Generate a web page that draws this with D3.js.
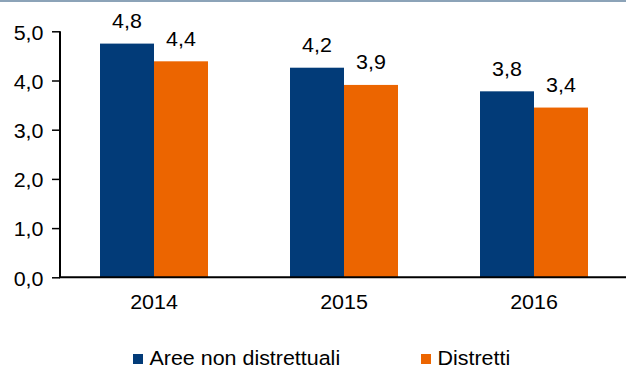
<!DOCTYPE html>
<html>
<head>
<meta charset="utf-8">
<script src="https://cdn.jsdelivr.net/npm/d3@7"></script>
<style>
  html, body { margin: 0; padding: 0; background: #fff; }
  svg { display: block; }
  text { font-family: "Liberation Sans", Arial, sans-serif; fill: #000; }
</style>
</head>
<body>
<svg id="chart" width="626" height="365"></svg>
<script>
const categories = ["2014", "2015", "2016"];
const seriesNames = ["Aree non distrettuali", "Distretti"];
const seriesColors = ["#023b78", "#ec6500"];
const areeNonDistrettuali = [4.75, 4.26, 3.78];
const distretti = [4.39, 3.91, 3.45];
const areeLabels = ["4,8", "4,2", "3,8"];
const distrettiLabels = ["4,4", "3,9", "3,4"];
const yTicks = [0, 1, 2, 3, 4, 5];
const yTickLabels = ["0,0", "1,0", "2,0", "3,0", "4,0", "5,0"];

const FS = 19.5, SX = 1.1;
const svg = d3.select("#chart");
const W = 626;

// top border line
svg.append("rect").attr("x", 0).attr("y", 0).attr("width", W).attr("height", 2).attr("fill", "#8ca3b8");

const x0 = d3.scaleBand().domain(categories).range([59, 629]);
const x1 = d3.scaleBand().domain(seriesNames).range([0, 108]);
const y = d3.scaleLinear().domain([0, 5]).range([277.3, 31.3]);

const data = categories.map((c, i) => ({
  cat: c,
  vals: [
    { s: seriesNames[0], v: areeNonDistrettuali[i], lab: areeLabels[i], col: seriesColors[0] },
    { s: seriesNames[1], v: distretti[i], lab: distrettiLabels[i], col: seriesColors[1] }
  ]
}));

const groups = svg.selectAll("g.cat").data(data).enter().append("g")
  .attr("class", "cat")
  .attr("transform", d => `translate(${x0(d.cat) + x0.bandwidth() / 2 - 54},0)`);

groups.selectAll("rect").data(d => d.vals).enter().append("rect")
  .attr("x", d => x1(d.s))
  .attr("width", x1.bandwidth())
  .attr("y", d => y(d.v))
  .attr("height", d => y(0) - y(d.v))
  .attr("fill", d => d.col);

groups.selectAll("text.val").data(d => d.vals).enter().append("text")
  .attr("class", "val")
  .attr("transform", d => `translate(${x1(d.s) + x1.bandwidth() / 2},${y(d.v) - 15.8}) scale(${SX},1)`)
  .attr("text-anchor", "middle")
  .attr("font-size", FS)
  .text(d => d.lab);

// y axis
const yAxis = d3.axisLeft(y).tickValues(yTicks).tickSize(8).tickPadding(9)
  .tickFormat((d, i) => yTickLabels[i]);
const gy = svg.append("g").attr("transform", "translate(60,0)").call(yAxis);
gy.select(".domain").attr("d", `M0,${y(5)}V${y(0)}`).attr("stroke", "#000").attr("stroke-width", 2);
gy.selectAll(".tick line").attr("stroke", "#000").attr("stroke-width", 1.5);
gy.selectAll(".tick text")
  .attr("font-size", FS).attr("font-family", "Liberation Sans, Arial, sans-serif").attr("fill", "#000")
  .attr("x", -16.5 / SX).attr("dy", "0.4em")
  .attr("transform", `scale(${SX},1)`);

// x axis
const xAxis = d3.axisBottom(x0).tickSize(0).tickPadding(18);
const gx = svg.append("g").attr("transform", `translate(0,${y(0)})`).call(xAxis);
gx.select(".domain").attr("d", `M59,0H626`).attr("stroke", "#000").attr("stroke-width", 2);
gx.selectAll(".tick text")
  .attr("font-size", FS).attr("font-family", "Liberation Sans, Arial, sans-serif").attr("fill", "#000")
  .attr("transform", `scale(${SX},1)`);

// legend
const legendX = [133, 421];
const leg = svg.selectAll("g.leg").data(seriesNames).enter().append("g")
  .attr("class", "leg")
  .attr("transform", (d, i) => `translate(${legendX[i]},0)`);
leg.append("rect").attr("x", 0).attr("y", 354).attr("width", 10).attr("height", 10)
  .attr("fill", (d, i) => seriesColors[i]);
leg.append("text").attr("transform", `translate(16.5,364.5) scale(${SX},1)`)
  .attr("font-size", FS).text(d => d);
</script>
</body>
</html>
